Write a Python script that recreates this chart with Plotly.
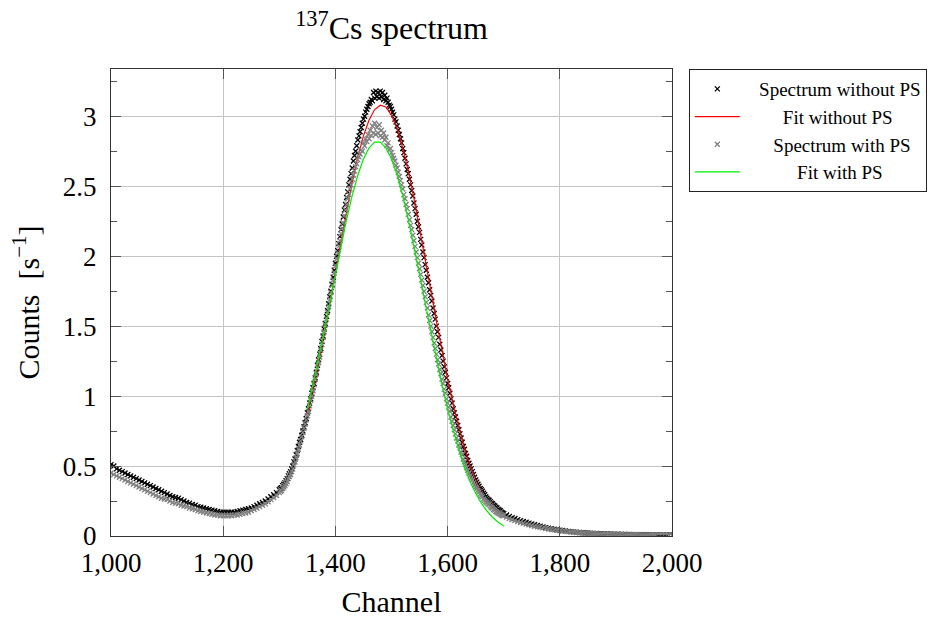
import plotly.graph_objects as go

# ---------------- data ----------------
channels_low = list(range(1000, 1300, 5))
channels_rise = list(range(1300, 1340, 2))
channels_mid = list(range(1340, 1640, 2))
channels_fall = list(range(1640, 1700, 2))
channels_high = list(range(1700, 2001, 5))

counts_nops_low = [
    0.51, 0.50, 0.48, 0.47, 0.46, 0.45, 0.44, 0.43, 0.42, 0.41,
    0.40, 0.39, 0.38, 0.37, 0.36, 0.35, 0.34, 0.33, 0.32, 0.31,
    0.30, 0.29, 0.28, 0.275, 0.27, 0.26, 0.25, 0.24, 0.235, 0.225,
    0.22, 0.21, 0.205, 0.20, 0.195, 0.19, 0.185, 0.18, 0.175, 0.17,
    0.17, 0.17, 0.17, 0.17, 0.17, 0.175, 0.18, 0.185, 0.19, 0.195,
    0.20, 0.21, 0.22, 0.23, 0.24, 0.25, 0.265, 0.28, 0.295, 0.31,
]
counts_nops_rise = [
    0.33, 0.34, 0.345, 0.36, 0.37, 0.38, 0.395, 0.41, 0.43, 0.445,
    0.46, 0.48, 0.50, 0.53, 0.55, 0.58, 0.61, 0.64, 0.67, 0.69,
]
counts_nops_mid = [
    0.72, 0.75, 0.78, 0.81, 0.84, 0.88, 0.91, 0.95, 0.98, 1.02,
    1.06, 1.09, 1.13, 1.17, 1.22, 1.26, 1.30, 1.34, 1.39, 1.43,
    1.48, 1.52, 1.57, 1.61, 1.66, 1.71, 1.75, 1.80, 1.85, 1.90,
    1.95, 2.00, 2.04, 2.09, 2.14, 2.19, 2.23, 2.28, 2.33, 2.37,
    2.42, 2.46, 2.51, 2.55, 2.59, 2.63, 2.68, 2.72, 2.75, 2.79,
    2.83, 2.86, 2.89, 2.92, 2.95, 2.98, 3.00, 3.03, 3.05, 3.07,
    3.09, 3.10, 3.12, 3.11, 3.17, 3.13, 3.18, 3.14, 3.17, 3.13,
    3.18, 3.14, 3.17, 3.12, 3.15, 3.11, 3.13, 3.10, 3.08, 3.07,
    3.05, 3.03, 3.01, 2.98, 2.96, 2.93, 2.90, 2.87, 2.84, 2.81,
    2.77, 2.74, 2.70, 2.66, 2.62, 2.59, 2.55, 2.51, 2.47, 2.43,
    2.38, 2.34, 2.30, 2.25, 2.21, 2.17, 2.12, 2.08, 2.03, 1.99,
    1.94, 1.90, 1.85, 1.81, 1.76, 1.72, 1.68, 1.63, 1.59, 1.55,
    1.50, 1.46, 1.42, 1.37, 1.33, 1.29, 1.25, 1.21, 1.17, 1.13,
    1.09, 1.06, 1.02, 0.98, 0.95, 0.91, 0.88, 0.85, 0.82, 0.79,
    0.76, 0.73, 0.70, 0.67, 0.64, 0.62, 0.59, 0.57, 0.54, 0.52,
]
counts_nops_fall = [
    0.50, 0.48, 0.46, 0.44, 0.42, 0.40, 0.385, 0.37, 0.355, 0.34,
    0.33, 0.32, 0.305, 0.295, 0.28, 0.27, 0.26, 0.255, 0.245, 0.235,
    0.23, 0.22, 0.215, 0.205, 0.20, 0.19, 0.185, 0.18, 0.17, 0.165,
]
counts_nops_high = [
    0.16, 0.15, 0.14, 0.13, 0.125, 0.117, 0.11, 0.104,
    0.098, 0.092, 0.086, 0.08, 0.075, 0.07, 0.065, 0.06, 0.056, 0.052,
    0.048, 0.045, 0.042, 0.039, 0.036, 0.033, 0.031, 0.029, 0.027, 0.025,
    0.024, 0.022, 0.021, 0.020, 0.019, 0.018, 0.017, 0.016, 0.015, 0.0145,
    0.014, 0.0135, 0.013, 0.0125, 0.012, 0.0115, 0.011, 0.0105, 0.010, 0.0098,
    0.0095, 0.0092, 0.009, 0.0088, 0.0085, 0.0082, 0.008, 0.0078, 0.0076, 0.0074,
    0.0072, 0.007, 0.007,
]

counts_ps_low = [
    0.45, 0.44, 0.43, 0.42, 0.41, 0.40, 0.39, 0.38, 0.37, 0.36,
    0.35, 0.34, 0.33, 0.32, 0.31, 0.30, 0.29, 0.28, 0.27, 0.265,
    0.26, 0.25, 0.24, 0.235, 0.23, 0.22, 0.215, 0.21, 0.20, 0.195,
    0.19, 0.18, 0.175, 0.17, 0.165, 0.16, 0.155, 0.15, 0.15, 0.145,
    0.145, 0.145, 0.145, 0.145, 0.15, 0.15, 0.155, 0.16, 0.165, 0.17,
    0.18, 0.19, 0.20, 0.21, 0.22, 0.23, 0.245, 0.26, 0.275, 0.29,
]
counts_ps_rise = [
    0.31, 0.32, 0.325, 0.34, 0.35, 0.36, 0.375, 0.39, 0.41, 0.425,
    0.44, 0.46, 0.48, 0.51, 0.53, 0.56, 0.59, 0.62, 0.65, 0.68,
]
counts_ps_mid = [
    0.71, 0.74, 0.77, 0.80, 0.83, 0.86, 0.89, 0.93, 0.97, 1.00,
    1.04, 1.08, 1.12, 1.16, 1.20, 1.24, 1.28, 1.33, 1.37, 1.42,
    1.46, 1.51, 1.55, 1.60, 1.64, 1.69, 1.74, 1.79, 1.83, 1.88,
    1.93, 1.98, 2.02, 2.07, 2.11, 2.16, 2.20, 2.24, 2.29, 2.33,
    2.37, 2.41, 2.44, 2.48, 2.51, 2.55, 2.58, 2.61, 2.64, 2.66,
    2.69, 2.71, 2.73, 2.76, 2.75, 2.81, 2.79, 2.84, 2.82, 2.87,
    2.84, 2.90, 2.86, 2.93, 2.88, 2.95, 2.87, 2.92, 2.88, 2.94,
    2.86, 2.90, 2.85, 2.88, 2.83, 2.85, 2.79, 2.81, 2.76, 2.77,
    2.74, 2.72, 2.70, 2.68, 2.65, 2.63, 2.60, 2.57, 2.54, 2.51,
    2.48, 2.44, 2.41, 2.37, 2.34, 2.30, 2.26, 2.22, 2.19, 2.15,
    2.11, 2.07, 2.03, 1.99, 1.95, 1.91, 1.87, 1.83, 1.79, 1.75,
    1.71, 1.67, 1.63, 1.58, 1.54, 1.50, 1.46, 1.42, 1.38, 1.34,
    1.30, 1.26, 1.23, 1.19, 1.16, 1.12, 1.09, 1.05, 1.02, 0.98,
    0.95, 0.92, 0.89, 0.85, 0.82, 0.79, 0.76, 0.73, 0.70, 0.68,
    0.65, 0.63, 0.60, 0.58, 0.55, 0.53, 0.51, 0.49, 0.47, 0.45,
]
counts_ps_fall = [
    0.43, 0.415, 0.40, 0.38, 0.365, 0.35, 0.34, 0.325, 0.315, 0.30,
    0.29, 0.28, 0.265, 0.255, 0.245, 0.24, 0.23, 0.225, 0.215, 0.205,
    0.20, 0.19, 0.185, 0.175, 0.17, 0.165, 0.16, 0.155, 0.15, 0.147,
]
counts_ps_high = [
    0.145, 0.135, 0.125, 0.118, 0.11, 0.103, 0.097, 0.091,
    0.085, 0.08, 0.075, 0.07, 0.066, 0.062, 0.058, 0.054, 0.05, 0.047,
    0.044, 0.041, 0.038, 0.035, 0.033, 0.031, 0.029, 0.027, 0.025, 0.023,
    0.022, 0.020, 0.019, 0.018, 0.017, 0.016, 0.015, 0.014, 0.0135, 0.013,
    0.0125, 0.012, 0.0115, 0.011, 0.0105, 0.010, 0.0097, 0.0094, 0.0091, 0.0088,
    0.0085, 0.0082, 0.008, 0.0078, 0.0076, 0.0074, 0.0072, 0.007, 0.0068, 0.0066,
    0.0064, 0.0062, 0.006,
]

fit_nops_channels = list(range(1350, 1661, 10))
fit_nops_values = [
    0.870, 1.046, 1.239, 1.448, 1.666, 1.891, 2.114, 2.330, 2.531, 2.710,
    2.860, 2.974, 3.048, 3.079, 3.066, 3.009, 2.910, 2.774, 2.606, 2.413,
    2.202, 1.980, 1.756, 1.534, 1.321, 1.121, 0.938, 0.773, 0.628, 0.503,
    0.397, 0.309,
]
fit_ps_channels = list(range(1350, 1701, 10))
fit_ps_values = [
    0.907, 1.080, 1.267, 1.465, 1.669, 1.875, 2.075, 2.264, 2.434, 2.580,
    2.695, 2.774, 2.815, 2.815, 2.774, 2.695, 2.580, 2.434, 2.264, 2.075,
    1.875, 1.669, 1.465, 1.267, 1.080, 0.907, 0.751, 0.613, 0.493, 0.391,
    0.305, 0.235, 0.179, 0.134, 0.098, 0.072,
]

x_ticks = [1000, 1200, 1400, 1600, 1800, 2000]
x_tick_labels = ["1,000", "1,200", "1,400", "1,600", "1,800", "2,000"]
y_ticks = [0, 0.5, 1, 1.5, 2, 2.5, 3]
y_tick_labels = ["0", "0.5", "1", "1.5", "2", "2.5", "3"]

series_names = ["Spectrum without PS", "Fit without PS", "Spectrum with PS", "Fit with PS"]

# ---------------- build ----------------
channels = channels_low + channels_rise + channels_mid + channels_fall + channels_high
counts_nops = counts_nops_low + counts_nops_rise + counts_nops_mid + counts_nops_fall + counts_nops_high
counts_ps = counts_ps_low + counts_ps_rise + counts_ps_mid + counts_ps_fall + counts_ps_high
assert len(channels) == len(counts_nops) == len(counts_ps), (len(channels), len(counts_nops), len(counts_ps))
assert len(fit_nops_channels) == len(fit_nops_values)
assert len(fit_ps_channels) == len(fit_ps_values)

NB = "\u00a0"
pad = [3, 8, 6, 11]   # centre the legend labels like the original
legend_names = [NB * p + n for p, n in zip(pad, series_names)]

SERIF = "Liberation Serif, Times New Roman, serif"

fig = go.Figure()
fig.add_trace(go.Scatter(
    x=channels, y=counts_nops, mode="markers", name=legend_names[0],
    marker=dict(symbol="x-thin", size=5, color="black",
                line=dict(width=1.3, color="black")),
))
fig.add_trace(go.Scatter(
    x=fit_nops_channels, y=fit_nops_values, mode="lines", name=legend_names[1],
    line=dict(color="#ff0000", width=1.2),
))
fig.add_trace(go.Scatter(
    x=channels, y=counts_ps, mode="markers", name=legend_names[2],
    marker=dict(symbol="x-thin", size=5, color="#808080",
                line=dict(width=1.3, color="#808080")),
))
fig.add_trace(go.Scatter(
    x=fit_ps_channels, y=fit_ps_values, mode="lines", name=legend_names[3],
    line=dict(color="#00ee00", width=1.2),
))

axis_common = dict(
    showline=True, linecolor="#333333", linewidth=1.2, mirror="ticks",
    ticks="inside", tickcolor="#555555", tickwidth=1,
    showgrid=True, gridcolor="#c4c4c4", gridwidth=1,
    zeroline=False,
    tickfont=dict(family=SERIF, size=27, color="black"),
)

fig.update_xaxes(
    range=[1000, 2000], tickvals=x_ticks, ticktext=x_tick_labels,
    ticklen=10, ticklabelstandoff=2,
    title=dict(text="Channel", font=dict(family=SERIF, size=30, color="black"), standoff=14),
    **axis_common,
)
fig.update_yaxes(
    range=[0, 3.338], tickvals=y_ticks, ticktext=y_tick_labels,
    ticklen=10, ticklabelstandoff=8,
    minor=dict(dtick=0.25, tick0=0, ticks="inside", ticklen=6, tickcolor="#555555", showgrid=False),
    title=dict(text="Counts\u00a0\u00a0[s<sup>\u22121</sup>]",
               font=dict(family=SERIF, size=30, color="black"), standoff=14),
    **axis_common,
)

fig.update_layout(
    width=940, height=619,
    margin=dict(l=111, r=268, t=69, b=83, autoexpand=False),
    paper_bgcolor="white", plot_bgcolor="white",
    title=dict(text="<sup>137</sup>Cs spectrum", x=391.5 / 940, xanchor="center",
               y=1 - 28 / 619, yanchor="middle",
               font=dict(family=SERIF, size=32, color="black")),
    showlegend=True,
    legend=dict(
        x=1.03, xanchor="left", y=1.0, yanchor="top",
        bordercolor="#222222", borderwidth=1, bgcolor="white",
        font=dict(family=SERIF, size=19, color="black"),
        itemwidth=45, traceorder="normal",
    ),
)

fig.write_html("out.html")
